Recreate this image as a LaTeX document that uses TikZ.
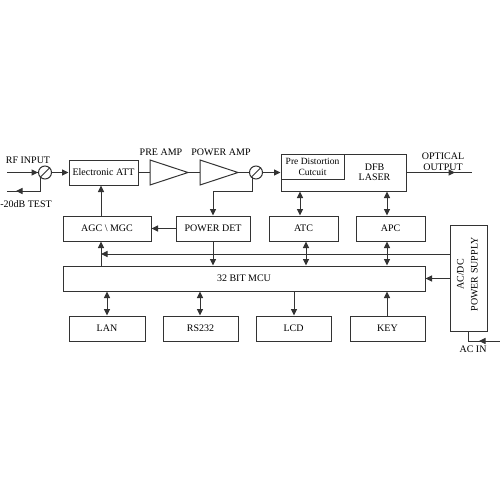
\documentclass[tikz,border=0pt]{standalone}
\usepackage{fontspec}
\setmainfont{Liberation Serif}
\usetikzlibrary{arrows.meta,calc}
\tikzset{
  x=1pt,y=-1pt,
  ln/.style={draw=black!80,line width=1pt},
  box/.style={ln,rectangle,inner sep=0pt,align=center,font=\fontsize{10}{10}\selectfont,text=black},
  lbl/.style={inner sep=0pt,align=center,font=\fontsize{10}{10}\selectfont,text=black},
  tip/.style={-{Triangle[length=6.5pt,width=6pt]},ln},
  dbl/.style={{Triangle[length=6.5pt,width=6pt]}-{Triangle[length=6.5pt,width=6pt]},ln},
  iso/.style={ln,circle,minimum size=13pt,inner sep=0pt},
}
\newcommand{\bx}[6]{\node[box,minimum width=#3pt-#2pt,minimum height=#5pt-#4pt] (#1) at ({(#2+#3)/2},{(#4+#5)/2}) {#6};}
\begin{document}
\begin{tikzpicture}
\useasboundingbox (0,0) rectangle (500,500);
\bx{att}{69}{138}{160}{185}{Electronic ATT}
\bx{agc}{63}{151}{216}{241}{AGC \textbackslash\ MGC}
\bx{det}{176}{250}{216}{241}{POWER DET}
\bx{atc}{269}{338}{216}{241}{ATC}
\bx{apc}{356}{425}{216}{241}{APC}
\bx{dfb}{281}{406}{154}{191}{}
\bx{pre}{281}{344}{154}{179}{\fontsize{9.5}{9.5}\selectfont Pre Distortion\\[1pt]\fontsize{9.5}{9.5}\selectfont Cutcuit}
\node[lbl,font=\fontsize{10}{9.5}\selectfont] (dfbt) at (374.5,172.5) {DFB\\LASER};
\bx{mcu}{63}{425}{266}{291}{32 BIT MCU}
\bx{lan}{69}{145}{316}{341}{LAN}
\bx{rs}{163}{238}{316}{341}{RS232}
\bx{lcd}{256}{331}{316}{341}{LCD}
\bx{key}{350}{425}{316}{341}{KEY}
\bx{ps}{450}{487}{225}{331}{}
\node[lbl,rotate=90] (pst) at (467.5,274.5) {AC/DC\\[4pt]POWER SUPPLY};
% amplifiers
\draw[ln] (150,160) coordinate (pa1) -- (188,172.5) coordinate (pao) -- (150,185) -- cycle;
\draw[ln] (200,160) -- (238,172.5) coordinate (wao) -- (200,185) -- cycle;
\coordinate (pai) at (150,172.5);
\coordinate (wai) at (200,172.5);
% couplers
\node[iso] (c1) at (45,172.5) {};
\node[iso] (c2) at (256,172.5) {};
\draw[ln] (c1.south west) -- (c1.north east);
\draw[ln] (c2.south west) -- (c2.north east);
% labels
\node[lbl] (l1) at (28,160) {RF INPUT};
\node[lbl] (l2) at (26,204) {-20dB TEST};
\node[lbl] (l3) at (161,152.5) {PRE AMP};
\node[lbl] (l4) at (221,152.5) {POWER AMP};
\node[lbl,font=\fontsize{10}{10.5}\selectfont] (l5) at (443,161.5) {OPTICAL\\OUTPUT};
\node[lbl] (l6) at (473,349) {AC IN};
% coordinates
\coordinate (in) at (7,172.5);
\coordinate (inm) at (38,172.5);
\coordinate (tp) at (40.5,191);
\coordinate (tpe) at (7,191);
\coordinate (tpm) at (16,191);
\coordinate (c2c) at (252,191);
\coordinate (detc) at (213,191);
\coordinate (outp) at (472,172.5);
\coordinate (outm) at (455,172.5);
\coordinate (bus) at (450,254);
\coordinate (busl) at (101,254);
\coordinate (acd) at (468,341);
\coordinate (ace) at (500,341);
\coordinate (acm) at (479,341);
% signal path
\draw[ln] (in) -- (c1.west);
\draw[tip] (in) -- (inm);
\draw[tip] (c1.east) -- (att.west);
\draw[ln] (att.east |- pai) -- (pai);
\draw[ln] (pao) -- (wai);
\draw[ln] (wao) -- (c2.west);
\draw[tip] (c2.east) -- (dfb.west |- c2.east);
\draw[ln] (dfb.east |- outp) -- (outp);
\draw[tip] (dfb.east |- outp) -- (outm);
% couplers' tap lines
\draw[ln] (c1.south west -| tp) -- (tp) -- (tpe);
\draw[tip] (tp) -- (tpm);
\draw[ln] (c2.south west -| c2c) -- (c2c) -- (detc);
\draw[tip] (detc) -- (det.north -| detc);
% control
\draw[tip] (det.west) -- (agc.east);
\draw[tip] (det.south -| detc) -- (mcu.north -| detc);
\draw[tip] (agc.north -| busl) -- (att.south -| busl);
\draw[tip] (mcu.north -| busl) -- (agc.south -| busl);
\draw[tip] (bus) -- (busl);
\coordinate (xa) at (300,0);
\coordinate (xb) at (387,0);
\coordinate (xc) at (306,0);
\draw[dbl] (dfb.south -| xa) -- (atc.north -| xa);
\draw[dbl] (dfb.south -| xb) -- (apc.north -| xb);
\draw[dbl] (atc.south -| xc) -- (mcu.north -| xc);
\draw[dbl] (apc.south -| xb) -- (mcu.north -| xb);
\coordinate (x1) at (107,0);
\coordinate (x2) at (200,0);
\coordinate (x3) at (294,0);
\draw[dbl] (mcu.south -| x1) -- (lan.north -| x1);
\draw[dbl] (mcu.south -| x2) -- (rs.north -| x2);
\draw[tip] (mcu.south -| x3) -- (lcd.north -| x3);
\draw[tip] (key.north -| xb) -- (mcu.south -| xb);
\draw[tip] (ps.west |- mcu.east) -- (mcu.east);
\draw[ln] (ps.south -| acd) -- (acd) -- (ace);
\draw[tip] (ace) -- (acm);
\end{tikzpicture}
\end{document}
